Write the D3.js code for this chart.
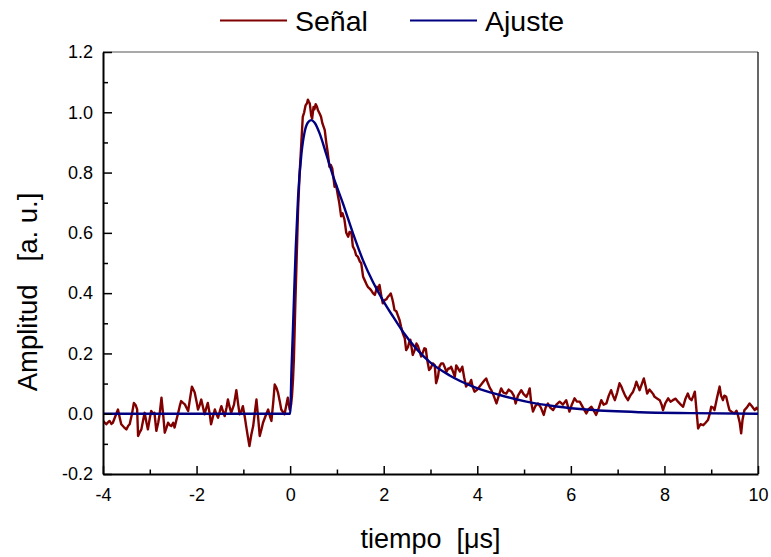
<!DOCTYPE html>
<html>
<head>
<meta charset="utf-8">
<script src="https://cdn.jsdelivr.net/npm/d3@7"></script>
<style>
  body { margin: 0; background: #fff; }
  svg { display: block; font-family: "Liberation Sans", Arial, sans-serif; }
</style>
</head>
<body>
<svg id="chart" width="771" height="557"></svg>
<script>
// ---- Data ----
const seriesNames = ["Señal", "Ajuste"];
const xMajorTicks = [-4, -2, 0, 2, 4, 6, 8, 10];
const xMinorTicks = [-3, -1, 1, 3, 5, 7, 9];
const yMajorTicks = [-0.2, 0.0, 0.2, 0.4, 0.6, 0.8, 1.0, 1.2];
const yMinorTicks = [-0.1, 0.1, 0.3, 0.5, 0.7, 0.9, 1.1];

// Señal (measured signal): time [µs]
const signalTime = [
  -4.00,-3.96,-3.93,-3.89,-3.86,-3.82,-3.79,-3.74,-3.68,-3.64,-3.61,-3.55,-3.50,-3.46,-3.43,-3.38,-3.34,-3.30,-3.27,-3.25,
  -3.21,-3.18,-3.14,-3.11,-3.07,-3.04,-3.00,-2.97,-2.93,-2.90,-2.86,-2.82,-2.79,-2.75,-2.71,-2.68,-2.64,-2.61,-2.57,-2.54,
  -2.50,-2.47,-2.43,-2.40,-2.36,-2.33,-2.29,-2.25,-2.21,-2.18,-2.14,-2.10,-2.07,-2.04,-2.00,-1.97,-1.93,-1.90,-1.86,-1.83,
  -1.79,-1.76,-1.72,-1.69,-1.65,-1.61,-1.58,-1.54,-1.50,-1.47,-1.43,-1.40,-1.36,-1.33,-1.29,-1.26,-1.20,-1.15,-1.11,-1.08,
  -1.04,-1.01,-0.97,-0.94,-0.90,-0.87,-0.83,-0.79,-0.75,-0.72,-0.68,-0.65,-0.61,-0.58,-0.52,-0.47,-0.43,-0.40,-0.36,-0.33,
  -0.29,-0.26,-0.22,-0.19,-0.15,-0.12,-0.08,-0.05,-0.01,
  0.02,0.04,0.06,0.08,0.11,0.14,0.17,0.20,0.24,0.27,0.30,0.33,0.36,0.38,0.40,0.42,0.45,0.47,0.50,0.52,
  0.545,0.57,0.595,0.63,0.66,0.69,0.72,0.74,0.77,0.80,0.84,0.87,0.90,0.95,0.98,1.02,1.05,1.09,1.12,1.16,
  1.20,1.24,1.27,1.31,1.34,1.38,1.41,1.45,1.49,1.52,1.56,1.59,1.63,1.66,1.70,1.73,1.77,1.81,1.86,1.88,
  1.91,1.95,1.98,2.02,2.06,2.09,2.13,2.15,2.18,2.20,2.23,2.27,2.30,2.34,2.37,2.41,2.45,2.48,2.52,2.55,
  2.57,2.62,2.66,2.70,2.73,2.77,2.80,2.84,2.87,2.90,2.93,2.97,3.00,3.05,3.09,3.12,3.16,3.19,3.23,3.27,
  3.30,3.34,3.38,3.41,3.44,3.48,3.52,3.55,3.59,3.63,3.68,3.72,3.76,3.80,3.83,3.87,3.90,3.94,4.00,4.05,
  4.10,4.15,4.19,4.23,4.27,4.30,4.35,4.41,4.46,4.51,4.56,4.62,4.67,4.73,4.78,4.82,4.87,4.94,4.99,5.05,
  5.09,5.12,5.15,5.19,5.24,5.30,5.36,5.42,5.46,5.51,5.56,5.62,5.69,5.76,5.83,5.90,5.97,6.02,6.08,6.13,
  6.19,6.26,6.33,6.38,6.44,6.49,6.54,6.60,6.65,6.70,6.76,6.81,6.86,6.90,6.94,6.99,7.04,7.08,7.11,7.16,
  7.22,7.27,7.33,7.37,7.40,7.44,7.47,7.52,7.56,7.60,7.63,7.68,7.72,7.76,7.79,7.85,7.90,7.94,7.97,8.02,
  8.08,8.13,8.18,8.24,8.29,8.35,8.40,8.45,8.50,8.54,8.58,8.62,8.65,8.68,8.72,8.77,8.83,8.88,8.93,8.97,
  9.00,9.04,9.07,9.12,9.18,9.21,9.25,9.28,9.32,9.36,9.39,9.45,9.50,9.54,9.57,9.61,9.64,9.67,9.71,9.76,
  9.82,9.87,9.93,9.97,10.00
];
// Señal amplitude [a. u.]
const signalAmp = [
  -0.024,-0.030,-0.035,-0.028,-0.024,-0.034,-0.030,-0.010,0.014,-0.015,-0.035,-0.045,-0.052,-0.040,-0.035,0.000,0.036,0.028,0.014,-0.074,
  -0.060,-0.052,-0.020,0.003,-0.030,-0.052,-0.015,0.009,0.000,0.003,-0.057,-0.030,-0.002,0.053,-0.010,-0.063,-0.045,-0.030,-0.038,-0.041,
  -0.030,-0.046,-0.020,-0.002,0.025,0.042,0.036,0.031,0.018,0.009,0.050,0.090,0.080,0.070,0.040,0.014,0.030,0.047,0.020,-0.002,
  0.020,0.036,0.000,-0.035,-0.010,0.014,0.000,-0.013,0.010,0.025,0.005,-0.008,0.020,0.047,0.020,0.003,0.030,0.078,0.030,-0.002,
  0.010,0.025,-0.010,-0.041,-0.080,-0.107,-0.070,-0.041,0.010,0.047,-0.020,-0.074,-0.050,-0.030,-0.005,0.014,-0.010,-0.024,0.040,0.097,
  0.085,0.070,0.040,0.014,0.005,-0.002,0.030,0.053,0.014,
  0.030,0.060,0.110,0.180,0.360,0.520,0.680,0.790,0.900,0.985,1.000,1.023,1.030,1.042,1.035,1.029,0.990,0.979,1.018,1.010,
  1.027,1.020,1.007,0.996,0.985,0.963,0.950,0.941,0.902,0.870,0.819,0.825,0.814,0.753,0.760,0.725,0.700,0.655,0.665,0.645,
  0.600,0.587,0.603,0.600,0.555,0.543,0.526,0.520,0.505,0.499,0.454,0.444,0.430,0.421,0.415,0.410,0.400,0.394,0.421,0.410,
  0.427,0.390,0.366,0.377,0.380,0.388,0.394,0.399,0.383,0.370,0.344,0.340,0.327,0.310,0.289,0.266,0.250,0.211,0.222,0.240,
  0.245,0.195,0.210,0.233,0.225,0.206,0.190,0.205,0.217,0.215,0.178,0.145,0.150,0.167,0.161,0.101,0.123,0.156,0.167,0.167,
  0.156,0.139,0.150,0.150,0.156,0.140,0.123,0.160,0.150,0.140,0.156,0.120,0.090,0.100,0.098,0.112,0.090,0.073,0.080,0.090,
  0.100,0.110,0.117,0.100,0.085,0.078,0.060,0.034,0.060,0.084,0.070,0.067,0.080,0.073,0.060,0.034,0.060,0.078,0.065,0.056,
  0.070,0.084,0.040,0.007,0.025,0.034,0.020,-0.004,0.020,0.034,0.020,0.012,0.030,0.040,0.030,0.045,0.007,0.030,0.051,0.040,
  0.040,0.020,0.001,0.015,0.023,0.010,-0.004,0.020,0.045,0.030,0.034,0.060,0.078,0.060,0.045,0.070,0.101,0.090,0.078,0.060,
  0.045,0.060,0.073,0.090,0.106,0.090,0.078,0.100,0.117,0.090,0.067,0.080,0.073,0.065,0.056,0.050,0.045,0.030,0.012,0.035,
  0.051,0.040,0.045,0.050,0.040,0.030,0.023,0.050,0.067,0.050,0.045,0.060,0.073,0.020,-0.049,-0.035,-0.038,-0.030,-0.021,0.000,
  0.023,0.020,0.012,0.050,0.090,0.060,0.045,0.060,0.056,0.030,0.012,0.005,0.001,0.010,-0.004,-0.030,-0.065,-0.020,0.012,0.020,
  0.034,0.025,0.012,0.020,0.012
];

// Ajuste (fit curve)
const fitTime = [-4,0,0.03,0.06,0.09,0.12,0.17,0.24,0.31,0.38,0.45,0.52,0.63,0.77,0.92,1.13,1.34,1.56,1.77,1.98,2.2,2.41,2.7,2.98,3.41,3.91,4.48,5.05,5.69,6.4,7.47,8.54,10];
const fitAmp  = [0,0,0.15,0.28,0.42,0.55,0.72,0.86,0.935,0.966,0.974,0.966,0.93,0.862,0.787,0.697,0.6,0.508,0.437,0.377,0.322,0.272,0.215,0.172,0.127,0.09,0.062,0.04,0.024,0.013,0.005,0.002,0.0];

const colors = ["#800000", "#000080"];

// ---- Layout ----
const svg = d3.select("#chart");
const L = 103, R = 758, T = 52, B = 474;
const x = d3.scaleLinear().domain([-4, 10]).range([L, R]);
const y = d3.scaleLinear().domain([-0.2, 1.2]).range([B, T]);
const hyphen = s => s.replace("\u2212", "-");

svg.append("defs").append("clipPath").attr("id", "clip")
  .append("rect").attr("x", L).attr("y", T).attr("width", R - L).attr("height", B - T);

// frame top & right
svg.append("line").attr("x1", L).attr("x2", R).attr("y1", T).attr("y2", T)
  .attr("stroke", "#555").attr("stroke-width", 1.2);
svg.append("line").attr("x1", R).attr("x2", R).attr("y1", T).attr("y2", B)
  .attr("stroke", "#000").attr("stroke-width", 1.2);

// data lines
const sigData = signalTime.map((t, i) => [t, signalAmp[i]]);
const fitData = fitTime.map((t, i) => [t, fitAmp[i]]);
const g = svg.append("g").attr("clip-path", "url(#clip)");
g.append("path").datum(sigData)
  .attr("d", d3.line().x(d => x(d[0])).y(d => y(d[1])))
  .attr("fill", "none").attr("stroke", colors[0]).attr("stroke-width", 2.4).attr("stroke-linejoin", "round");
g.append("path").datum(fitData)
  .attr("d", d3.line().x(d => x(d[0])).y(d => y(d[1])).curve(d3.curveMonotoneX))
  .attr("fill", "none").attr("stroke", colors[1]).attr("stroke-width", 2.4);

// axes
function styleAxis(sel) {
  sel.select(".domain").attr("stroke", "#000").attr("stroke-width", 2);
  sel.selectAll(".tick line").attr("stroke", "#000").attr("stroke-width", 1.5);
  sel.selectAll(".tick text").attr("fill", "#000").attr("font-size", 18)
    .attr("font-family", "Liberation Sans, Arial, sans-serif");
}
const xMinor = svg.append("g").attr("transform", `translate(0,${B})`)
  .call(d3.axisBottom(x).tickValues(xMinorTicks).tickSize(-4.5).tickFormat(""));
xMinor.select(".domain").remove();
xMinor.selectAll(".tick line").attr("stroke", "#000").attr("stroke-width", 1.5);
const yMinor = svg.append("g").attr("transform", `translate(${L},0)`)
  .call(d3.axisLeft(y).tickValues(yMinorTicks).tickSize(-5).tickFormat(""));
yMinor.select(".domain").remove();
yMinor.selectAll(".tick line").attr("stroke", "#000").attr("stroke-width", 1.5);

const xAxis = svg.append("g").attr("transform", `translate(0,${B})`)
  .call(d3.axisBottom(x).tickValues(xMajorTicks).tickSize(-8).tickSizeOuter(0).tickPadding(14)
    .tickFormat(d => hyphen(d3.format("d")(d))));
styleAxis(xAxis);
const yAxis = svg.append("g").attr("transform", `translate(${L},0)`)
  .call(d3.axisLeft(y).tickValues(yMajorTicks).tickSize(-9).tickSizeOuter(0).tickPadding(10)
    .tickFormat(d => hyphen(d3.format(".1f")(d))));
styleAxis(yAxis);

// axis titles
svg.append("text").attr("x", (L + R) / 2).attr("y", 548).attr("text-anchor", "middle")
  .attr("font-size", 27).attr("fill", "#000").attr("xml:space", "preserve")
  .text("tiempo  [\u03bcs]");
svg.append("text").attr("transform", `translate(37,292) rotate(-90)`)
  .attr("text-anchor", "middle").attr("font-size", 27.5).attr("fill", "#000").attr("xml:space", "preserve")
  .text("Amplitud   [a. u.]");

// legend
const legX = [220, 410];
seriesNames.forEach((name, i) => {
  svg.append("line").attr("x1", legX[i]).attr("x2", legX[i] + 67).attr("y1", 20.5).attr("y2", 20.5)
    .attr("stroke", colors[i]).attr("stroke-width", 2.2);
  svg.append("text").attr("x", legX[i] + 75).attr("y", 30.5).attr("font-size", 28.5).attr("fill", "#000").text(name);
});
</script>
</body>
</html>
